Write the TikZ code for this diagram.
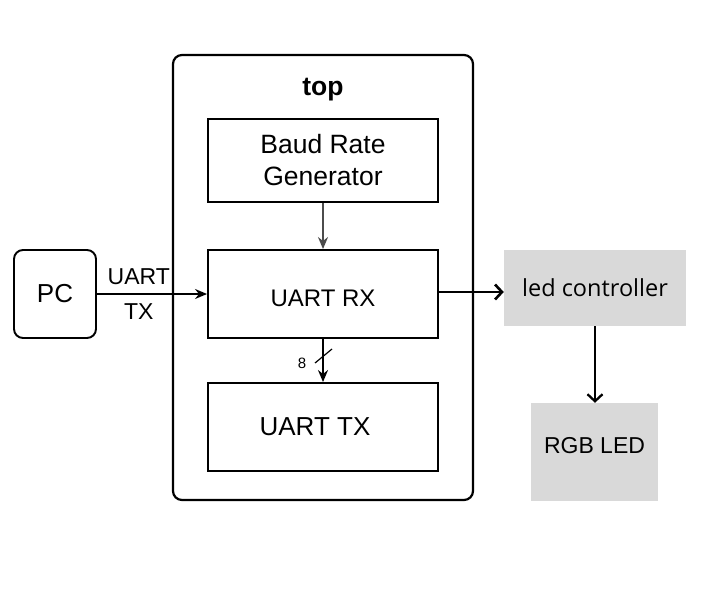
\documentclass[tikz,border=0pt]{standalone}
\usepackage{fontspec}
\setmainfont{Liberation Sans}
\newfontfamily\ledfont{Open Sans}
\usetikzlibrary{arrows.meta}
\begin{document}
\begin{tikzpicture}[x=1pt, y=-1pt,
    block/.style={draw, line width=1.9pt, minimum width=230pt, inner sep=0pt,
      align=center, font=\fontsize{24}{32}\selectfont},
    greybox/.style={fill=black!15, inner sep=0pt, font=\ledfont\fontsize{23.5}{28}\selectfont},
    wire/.style={line width=1.7pt, -{Stealth[length=12pt, width=10pt]}},
    bold wire/.style={line width=2.6pt, -{Straight Barb[length=7pt, width=15pt]}}]
  \useasboundingbox (0,0) rectangle (716,594);

  % the top module and its blocks
  \node[draw, rounded corners=9pt, line width=2.2pt, minimum width=300pt,
        minimum height=445pt] (top) at (323,277.5) {};
  \node[font=\bfseries\fontsize{26.5}{30}\selectfont] (toplabel) at (323,90) {top};
  \node[block, minimum height=83pt, font=\fontsize{26.5}{32}\selectfont] (baud) at (323,160.5) {Baud Rate\\Generator};
  \node[block, minimum height=88pt, text height=25pt, text depth=0pt] (rx) at (323,294) {UART RX};
  \node[block, minimum height=88pt, font=\fontsize{26}{30}\selectfont] (tx) at (323,427) {\hspace*{-16pt}UART TX};

  % outside
  \node[draw, rounded corners=9pt, line width=1.9pt, minimum width=82pt,
        minimum height=88pt, font=\fontsize{26}{30}\selectfont] (pc) at (55,294) {PC};
  \node[greybox, minimum width=182pt, minimum height=76pt] (led) at (595,288) {led controller};
  \node[greybox, font=\fontsize{23}{26}\selectfont, minimum width=127pt,
        minimum height=98pt, text height=9pt, text depth=7pt] (rgb) at (594.5,452) {RGB LED};

  % connectors
  \draw[wire, black!70] (baud) -- (rx);
  \draw[wire] (pc) -- (rx)
    node[pos=0.38, above=5pt, font=\fontsize{23}{26}\selectfont] (uartlabel) {UART}
    node[pos=0.38, below=5pt, font=\fontsize{23}{26}\selectfont] (txlabel) {TX};
  \draw[wire] (rx) -- (tx);
  \coordinate (bus) at (323,356);
  \draw[line width=1.2pt] ([shift={(-8,7)}]bus) -- ([shift={(9,-7)}]bus);
  \node[font=\fontsize{15}{17}\selectfont] (buswidth) at (302,363) {8};
  \draw[bold wire] ([yshift=2pt]rx.east) -- ([yshift=2pt]rx.east -| led.west);
  \draw[bold wire, line width=2.3pt] (led.south) -- (led.south |- rgb.north);
\end{tikzpicture}
\end{document}
